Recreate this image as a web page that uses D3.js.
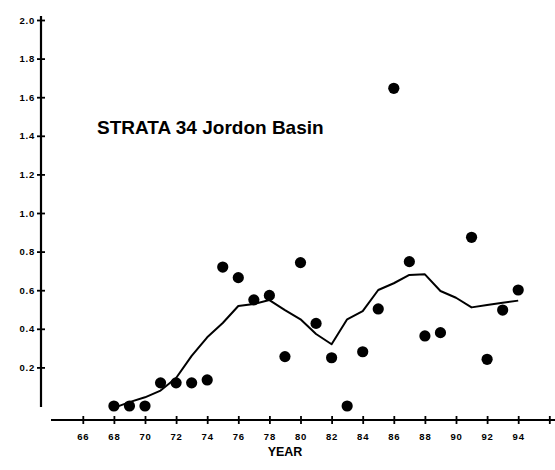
<!DOCTYPE html>
<html>
<head>
<meta charset="utf-8">
<script src="https://cdn.jsdelivr.net/npm/d3@7.9.0/dist/d3.min.js"></script>
<style>
  body { margin: 0; background: #fff; }
  svg { display: block; }
  text { font-family: "Liberation Sans", Arial, sans-serif; fill: #000; }
</style>
</head>
<body>
<svg id="chart" width="555" height="470"></svg>
<script>
// observed survey values
const obsYears = [68, 69, 70, 71, 72, 73, 74, 75, 76, 77, 78, 79, 80, 81, 82, 83, 84, 85, 86, 87, 88, 89, 91, 92, 93, 94];
const obsValues = [0.0, 0.0, 0.0, 0.12, 0.12, 0.12, 0.135, 0.72, 0.665, 0.55, 0.573, 0.256, 0.743, 0.428, 0.25, 0.0, 0.281, 0.503, 1.646, 0.748, 0.363, 0.38, 0.874, 0.242, 0.497, 0.601];

// smoothed trend line
const trendYears = [68, 69, 70, 71, 72, 73, 74, 75, 76, 77, 78, 79, 80, 81, 82, 83, 84, 85, 86, 87, 88, 89, 90, 91, 92, 93, 94];
const trendValues = [-0.01, 0.02, 0.045, 0.08, 0.145, 0.26, 0.356, 0.43, 0.518, 0.528, 0.549, 0.497, 0.449, 0.373, 0.32, 0.449, 0.492, 0.601, 0.636, 0.679, 0.682, 0.596, 0.561, 0.511, 0.523, 0.535, 0.546];

const xTicks = [66, 68, 70, 72, 74, 76, 78, 80, 82, 84, 86, 88, 90, 92, 94, 96];
const yTicks = [0.2, 0.4, 0.6, 0.8, 1.0, 1.2, 1.4, 1.6, 1.8, 2.0];

const svg = d3.select('#chart');

const x = d3.scaleLinear().domain([64, 96]).range([51.7, 549.3]);
const y = d3.scaleLinear().domain([0, 2]).range([406, 20]);
const yAxisX = 41;
const xAxisY = 420;

// axis lines
svg.append('line')
  .attr('x1', yAxisX).attr('x2', yAxisX)
  .attr('y1', 16).attr('y2', 407)
  .attr('stroke', '#000').attr('stroke-width', 2.2);

svg.append('line')
  .attr('x1', 51).attr('x2', 555)
  .attr('y1', xAxisY).attr('y2', xAxisY)
  .attr('stroke', '#000').attr('stroke-width', 2.2);

// y axis ticks
const yAxis = svg.append('g')
  .attr('transform', `translate(${yAxisX},0)`)
  .call(d3.axisLeft(y).tickValues(yTicks).tickFormat(d3.format('.1f')).tickSize(4).tickPadding(6));
yAxis.select('.domain').remove();
yAxis.selectAll('.tick line').attr('x1', -4).attr('x2', 4).attr('stroke-width', 1.8);
yAxis.selectAll('.tick text')
  .style('font-size', '9.5px').style('font-weight', 'bold').style('letter-spacing', '0.8px')
  .attr('x', -6);

// x axis ticks
const xAxis = svg.append('g')
  .attr('transform', `translate(0,${xAxisY})`)
  .call(d3.axisBottom(x).tickValues(xTicks).tickFormat(d => d === 96 ? '' : d).tickSize(4).tickPadding(9));
xAxis.select('.domain').remove();
xAxis.selectAll('.tick line').attr('y1', -4).attr('y2', 4).attr('stroke-width', 1.8);
xAxis.selectAll('.tick text')
  .style('font-size', '9.5px').style('font-weight', 'bold').style('letter-spacing', '0.8px');

svg.append('text')
  .attr('x', 285).attr('y', 456)
  .attr('text-anchor', 'middle')
  .style('font-size', '12.5px').style('font-weight', 'bold')
  .text('YEAR');

// title
svg.append('text')
  .attr('x', 97).attr('y', 134)
  .style('font-size', '19px').style('font-weight', 'bold')
  .text('STRATA 34 Jordon Basin');

// trend line
const line = d3.line()
  .x((d, i) => x(trendYears[i]))
  .y(d => y(d));

svg.append('path')
  .datum(trendValues)
  .attr('d', line)
  .attr('fill', 'none')
  .attr('stroke', '#000')
  .attr('stroke-width', 2)
  .attr('stroke-linejoin', 'round');

// points
svg.selectAll('circle.obs')
  .data(obsValues)
  .enter()
  .append('circle')
  .attr('class', 'obs')
  .attr('cx', (d, i) => x(obsYears[i]))
  .attr('cy', d => y(d))
  .attr('r', 5.6)
  .attr('fill', '#000');
</script>
</body>
</html>
